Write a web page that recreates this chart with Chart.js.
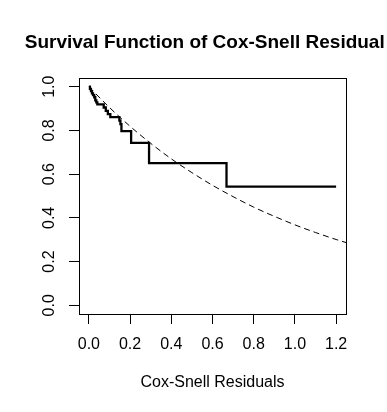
<!DOCTYPE html>
<html>
<head>
<meta charset="utf-8">
<script src="https://cdn.jsdelivr.net/npm/chart.js@4/dist/chart.umd.min.js"></script>
<style>
html,body{margin:0;padding:0;background:#fff;}
canvas{display:block;}
</style>
</head>
<body>
<canvas id="c" width="387" height="412"></canvas>
<script>
// Kaplan-Meier estimate of Cox-Snell residuals (time, survival after step)
const kmTime = [0, 0.005, 0.010, 0.015, 0.020, 0.026, 0.031, 0.036, 0.041, 0.072, 0.082, 0.092, 0.104, 0.148, 0.153, 0.158, 0.205, 0.292, 0.668, 1.2];
const kmSurv = [1.0, 0.990, 0.980, 0.970, 0.962, 0.952, 0.938, 0.928, 0.919, 0.905, 0.890, 0.875, 0.861, 0.845, 0.829, 0.797, 0.743, 0.650, 0.543, 0.543];
// Reference curve (dashed)
const refX = [0, 0.1, 0.2, 0.3, 0.4, 0.5, 0.6, 0.7, 0.8, 0.9, 1.0, 1.1, 1.2, 1.248];
const refY = [1.000, 0.905, 0.819, 0.741, 0.670, 0.607, 0.549, 0.497, 0.449, 0.407, 0.368, 0.333, 0.301, 0.287];
const xTicks = [0, 0.2, 0.4, 0.6, 0.8, 1.0, 1.2];
const yTicks = [0, 0.2, 0.4, 0.6, 0.8, 1.0];
const titleText = 'Survival Function of Cox-Snell Residuals';
const xTitle = 'Cox-Snell Residuals';

const FONT = '"Liberation Sans", Arial, Helvetica, sans-serif';

const decor = {
  id: 'decor',
  afterDraw(chart) {
    const ctx = chart.ctx, a = chart.chartArea;
    ctx.save();
    // box
    ctx.strokeStyle = '#000';
    ctx.lineWidth = 1;
    ctx.strokeRect(Math.round(a.left) + 0.5, Math.round(a.top) + 0.5, Math.round(a.right - a.left), Math.round(a.bottom - a.top));
    // title (the original image is cropped just after "Residual")
    ctx.save();
    ctx.beginPath();
    ctx.rect(0, 0, 384, 70);
    ctx.clip();
    ctx.fillStyle = '#000';
    ctx.font = 'bold 19px ' + FONT;
    ctx.textAlign = 'center';
    ctx.textBaseline = 'alphabetic';
    ctx.fillText(titleText, (a.left + a.right) / 2 - 2.5, 48);
    ctx.restore();
    // x axis title
    ctx.fillStyle = '#000';
    ctx.font = '16px ' + FONT;
    ctx.textAlign = 'center';
    ctx.textBaseline = 'middle';
    ctx.fillText(xTitle, (a.left + a.right) / 2, 383);
    // y tick labels (rotated)
    const ys = chart.scales.y;
    ctx.font = '16px ' + FONT;
    yTicks.forEach(v => {
      const py = ys.getPixelForValue(v);
      ctx.save();
      ctx.translate(50, py);
      ctx.rotate(-Math.PI / 2);
      ctx.textAlign = 'center';
      ctx.textBaseline = 'middle';
      ctx.fillText(v.toFixed(1), 0, 0);
      ctx.restore();
    });
    ctx.restore();
  }
};

new Chart(document.getElementById('c'), {
  type: 'line',
  data: {
    datasets: [
      {
        data: kmTime.map((t, i) => ({x: t, y: kmSurv[i]})),
        borderColor: '#000',
        borderWidth: 2.3,
        stepped: true,
        pointRadius: 0,
        fill: false
      },
      {
        data: refX.map((t, i) => ({x: t, y: refY[i]})),
        borderColor: '#000',
        borderWidth: 1,
        borderDash: [6, 4],
        cubicInterpolationMode: 'monotone',
        pointRadius: 0,
        fill: false
      }
    ]
  },
  options: {
    responsive: false,
    animation: false,
    devicePixelRatio: 1,
    layout: {padding: {top: 78, right: 41, left: 0, bottom: 0}},
    plugins: {legend: {display: false}, tooltip: {enabled: false}, title: {display: false}},
    scales: {
      x: {
        type: 'linear',
        min: -0.048,
        max: 1.248,
        afterFit: s => { s.height = 98; },
        afterBuildTicks: s => { s.ticks = xTicks.map(v => ({value: v})); },
        ticks: {
          color: '#000',
          font: {family: FONT, size: 16},
          padding: 11,
          maxRotation: 0,
          autoSkip: false,
          callback: v => Number(v).toFixed(1)
        },
        grid: {drawOnChartArea: false, drawTicks: true, tickLength: 10, color: '#000', lineWidth: 1},
        border: {display: false}
      },
      y: {
        type: 'linear',
        min: -0.04,
        max: 1.04,
        afterFit: s => { s.width = 79; },
        afterBuildTicks: s => { s.ticks = yTicks.map(v => ({value: v})); },
        ticks: {color: 'rgba(0,0,0,0)', font: {family: FONT, size: 16}, autoSkip: false},
        grid: {drawOnChartArea: false, drawTicks: true, tickLength: 10, color: '#000', lineWidth: 1},
        border: {display: false}
      }
    }
  },
  plugins: [decor]
});
</script>
</body>
</html>
